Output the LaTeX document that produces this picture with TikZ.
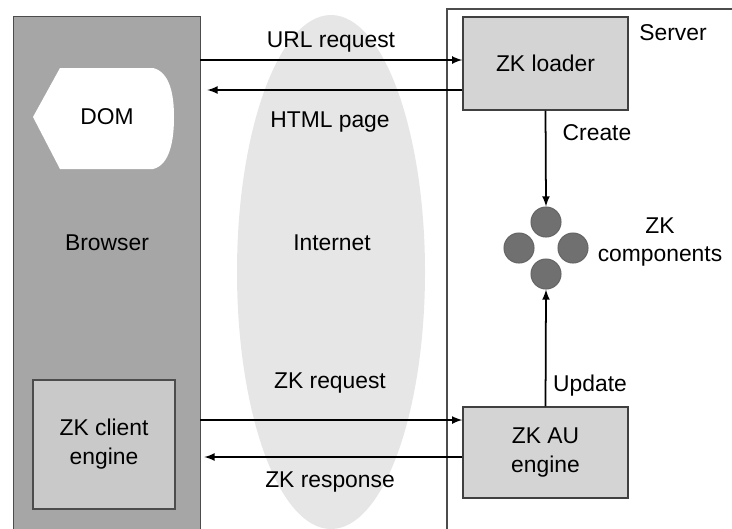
\documentclass[tikz,border=0pt]{standalone}
\usepackage{fontspec}
\setmainfont{Liberation Sans}
\definecolor{browsergray}{HTML}{A6A6A6}
\definecolor{boxgray}{HTML}{D4D4D4}
\definecolor{clientgray}{HTML}{C9C9C9}
\definecolor{netgray}{HTML}{E6E6E6}
\definecolor{compgray}{HTML}{707070}

\begin{document}
\begin{tikzpicture}[>=latex, x=0.02cm, y=-0.02cm,
	font=\fontsize{13}{16.5}\selectfont,
	box/.style={draw=black!75, line width=0.8pt, fill=boxgray, align=center, minimum width=3.3cm},
	comp/.style={circle, draw=black!60, line width=0.6pt, fill=compgray, minimum size=0.6cm, inner sep=0pt},
	link/.style={->, line width=1pt}]
	\useasboundingbox (0,0) rectangle (732,528);
	\clip (0,0) rectangle (732,528);
	
	% internet
	\fill[netgray] (331,272) ellipse (94 and 257);
	% server frame
	\draw[black!70, line width=0.8pt] (732,9) -| (447,540);
	
	\path
	(106.5,278) 	node[draw=black!70, fill=browsergray, minimum width=3.74cm, minimum height=10.48cm] (browser) {}
	(104,444.5) 	node[draw=black!70, line width=0.8pt, fill=clientgray, minimum width=2.84cm, minimum height=2.58cm, align=center] (client) {ZK client\\engine}
	(545.5,63.5) 	node[box, minimum height=1.86cm] 	(loader) 	{ZK loader}
	(545.5,452.5) 	node[box, minimum height=1.82cm] 	(auengine) 	{ZK AU\\engine}
	(546,222) 		node[comp] (ctop) {}
	(519,248) 		node[comp] (cleft) {}
	(573,248) 		node[comp] (cright) {}
	(546,274) 		node[comp] (cbot) {}
	(660,242) 		node[align=center] (complbl) {ZK\\components}
	(673,33) 		node (serverlbl) {Server}
	(107,243) 		node (browserlbl) {Browser}
	(332,243) 		node (netlbl) {Internet}
	(0,60) 			coordinate (urlrow)
	(0,90) 			coordinate (htmlrow)
	(0,420) 		coordinate (reqrow)
	(0,457) 		coordinate (resprow);
	
	% DOM
	\fill[white] (33,117) -- (60,68) -- (153,68) .. controls (170,72) and (174,95) .. (174,117)
	.. controls (174,140) and (170,165) .. (153,169) -- (60,169) -- cycle;
	\node (dom) at (107,117) {DOM};
	
	\draw[link] (browser.east |- urlrow) -- (loader.west |- urlrow);
	\draw[link, shorten >=0.14cm] (loader.west |- htmlrow) -- (browser.east |- htmlrow);
	\draw[link] (browser.east |- reqrow) -- (auengine.west |- reqrow);
	\draw[link, shorten >=0.08cm] (auengine.west |- resprow) -- (browser.east |- resprow);
	\draw[link] (loader.south) -- (ctop.north);
	\draw[link] (auengine.north) -- (cbot.south);
	
	\node at (331,42) {URL request};
	\node at (330,122) {HTML page};
	\node at (330,383) {ZK request};
	\node at (330,482) {ZK response};
	\node at (597,133) {Create};
	\node at (590,386) {Update};
\end{tikzpicture}
\end{document}
